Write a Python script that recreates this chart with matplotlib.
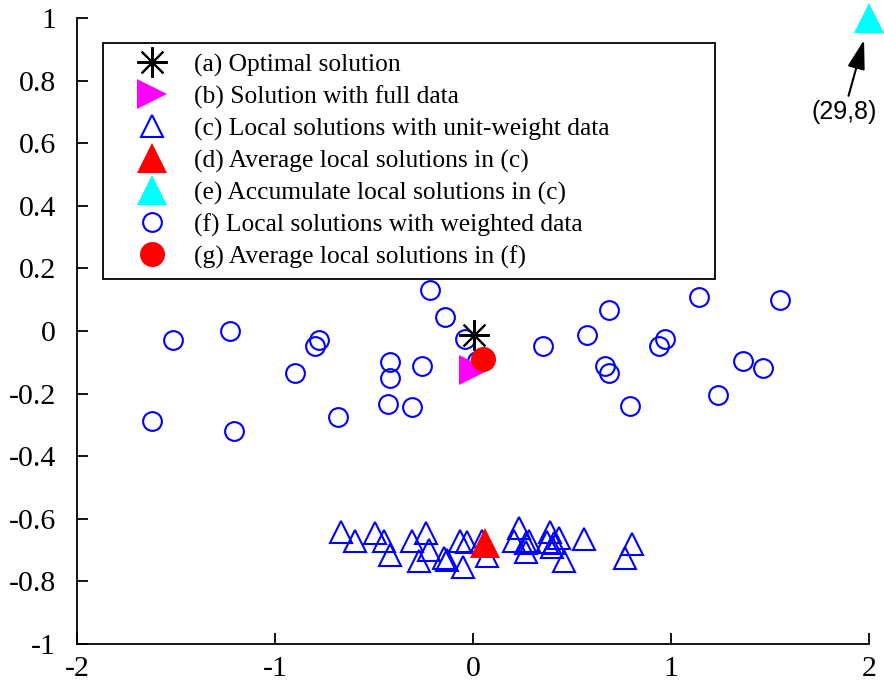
# Local vs. global solutions scatter

import matplotlib
matplotlib.use("Agg")
import matplotlib.pyplot as plt

# --------------------------------------------------
# DATA
# --------------------------------------------------

# (a) optimal solution
opt_x = [0.005]
opt_y = [-0.013]

# (b) solution with full data
full_x = [0.005]
full_y = [-0.125]

# (c) local solutions with unit-weight data
unit_x = [-0.667, -0.596, -0.495, -0.449, -0.419, -0.308, -0.237, -0.222,
          -0.273, -0.146, -0.131, -0.051, -0.066, -0.030, 0.045, 0.071,
          0.232, 0.207, 0.268, 0.268, 0.283, 0.389, 0.374, 0.409,
          0.434, 0.399, 0.460, 0.561, 0.803, 0.768]
unit_y = [-0.642, -0.671, -0.645, -0.671, -0.716, -0.671, -0.645, -0.700,
          -0.735, -0.725, -0.732, -0.754, -0.671, -0.674, -0.671, -0.719,
          -0.629, -0.671, -0.677, -0.706, -0.671, -0.642, -0.674, -0.677,
          -0.661, -0.690, -0.735, -0.665, -0.681, -0.725]

# (d) average of (c)
avg_unit_x = [0.06]
avg_unit_y = [-0.677]

# (e) accumulated local solutions (true value is (29,8), drawn at the corner)
acc_x = [2.0]
acc_y = [1.0]

# (f) local solutions with weighted data
wgt_x = [-1.62, -1.515, -1.227, -1.207, -0.90, -0.80, -0.78, -0.68,
         -0.42, -0.42, -0.43, -0.31, -0.26, -0.217, -0.14, -0.04,
         0.02, 0.354, 0.575, 0.687, 0.667, 0.687, 0.793, 0.97,
         0.94, 1.14, 1.237, 1.364, 1.465, 1.55]
wgt_y = [-0.288, -0.03, 0.0, -0.32, -0.134, -0.048, -0.03, -0.275,
         -0.10, -0.15, -0.233, -0.243, -0.112, 0.13, 0.045, -0.025,
         -0.096, -0.048, -0.013, 0.067, -0.112, -0.134, -0.24, -0.026,
         -0.048, 0.109, -0.205, -0.096, -0.118, 0.099]

# (g) average of (f)
avg_wgt_x = [0.05]
avg_wgt_y = [-0.09]

labels = [
    "(a) Optimal solution",
    "(b) Solution with full data",
    "(c) Local solutions with unit-weight data",
    "(d) Average local solutions in (c)",
    "(e) Accumulate local solutions in (c)",
    "(f) Local solutions with weighted data",
    "(g) Average local solutions in (f)",
]

x_ticks = [-2, -1, 0, 1, 2]
y_ticks = [-1, -0.8, -0.6, -0.4, -0.2, 0, 0.2, 0.4, 0.6, 0.8, 1]
y_tick_labels = ["-1", "-0.8", "-0.6", "-0.4", "-0.2", "0",
                 "0.2", "0.4", "0.6", "0.8", "1"]

# --------------------------------------------------
# PLOT
# --------------------------------------------------

plt.rcParams["font.family"] = ["Liberation Serif", "DejaVu Serif"]

fig = plt.figure(figsize=(8.84, 6.82), dpi=100)
ax = fig.add_axes([77 / 884, 38 / 682, 792 / 884, 626 / 682])

h_opt, = ax.plot(opt_x, opt_y, linestyle="none", marker=(8, 2, 0),
                 markersize=22, markeredgewidth=1.5, color="black", zorder=6)
h_full, = ax.plot(full_x, full_y, linestyle="none", marker=">",
                  markersize=21, color="#ff00ff", markeredgewidth=0, zorder=4)
h_unit, = ax.plot(unit_x, unit_y, linestyle="none", marker="^",
                  markersize=16.5, markerfacecolor="none",
                  markeredgecolor="blue", markeredgewidth=1.5, zorder=3)
h_avg_unit, = ax.plot(avg_unit_x, avg_unit_y, linestyle="none", marker="^",
                      markersize=21, color="red", markeredgewidth=0, zorder=5)
h_acc, = ax.plot(acc_x, acc_y, linestyle="none", marker="^",
                 markersize=21, color="cyan", markeredgewidth=0,
                 clip_on=False, zorder=5)
h_wgt, = ax.plot(wgt_x, wgt_y, linestyle="none", marker="o",
                 markersize=13.5, markerfacecolor="none",
                 markeredgecolor="blue", markeredgewidth=1.5, zorder=3)
h_avg_wgt, = ax.plot(avg_wgt_x, avg_wgt_y, linestyle="none", marker="o",
                     markersize=18, color="red", markeredgewidth=0, zorder=5)

# arrow pointing at the off-scale accumulated solution
ax.annotate("(29,8)", xy=(1.975, 0.93), xytext=(1.874, 0.70),
            ha="center", va="center", fontsize=18,
            family=["Liberation Sans", "DejaVu Sans"],
            arrowprops=dict(arrowstyle="-|>,head_length=1.0,head_width=0.3",
                            color="black", lw=1.5, shrinkA=1, shrinkB=0),
            annotation_clip=False)

ax.set_xlim(-2, 2)
ax.set_ylim(-1, 1)
ax.set_xticks(x_ticks)
ax.set_xticklabels([str(t) for t in x_ticks])
ax.set_yticks(y_ticks)
ax.set_yticklabels(y_tick_labels)
ax.tick_params(direction="in", length=8, width=1.3, labelsize=21.5)
ax.tick_params(axis="x", pad=9)
ax.tick_params(axis="y", pad=15)

ax.spines["top"].set_visible(False)
ax.spines["right"].set_visible(False)
ax.spines["left"].set_linewidth(1.3)
ax.spines["bottom"].set_linewidth(1.3)

leg = ax.legend(
    [h_opt, h_full, h_unit, h_avg_unit, h_acc, h_wgt, h_avg_wgt],
    labels,
    loc="upper left",
    bbox_to_anchor=(0.033, 0.586, 0.773, 0.374),
    mode="expand",
    borderaxespad=0,
    numpoints=1,
    fontsize=18.4,
    frameon=True,
    fancybox=False,
    edgecolor="black",
    borderpad=0.4,
    labelspacing=0.34,
    handlelength=3.06,
    handletextpad=0.1,
)
leg.get_frame().set_linewidth(1.3)
leg.get_frame().set_alpha(1)

plt.savefig("out.png", dpi=100)
